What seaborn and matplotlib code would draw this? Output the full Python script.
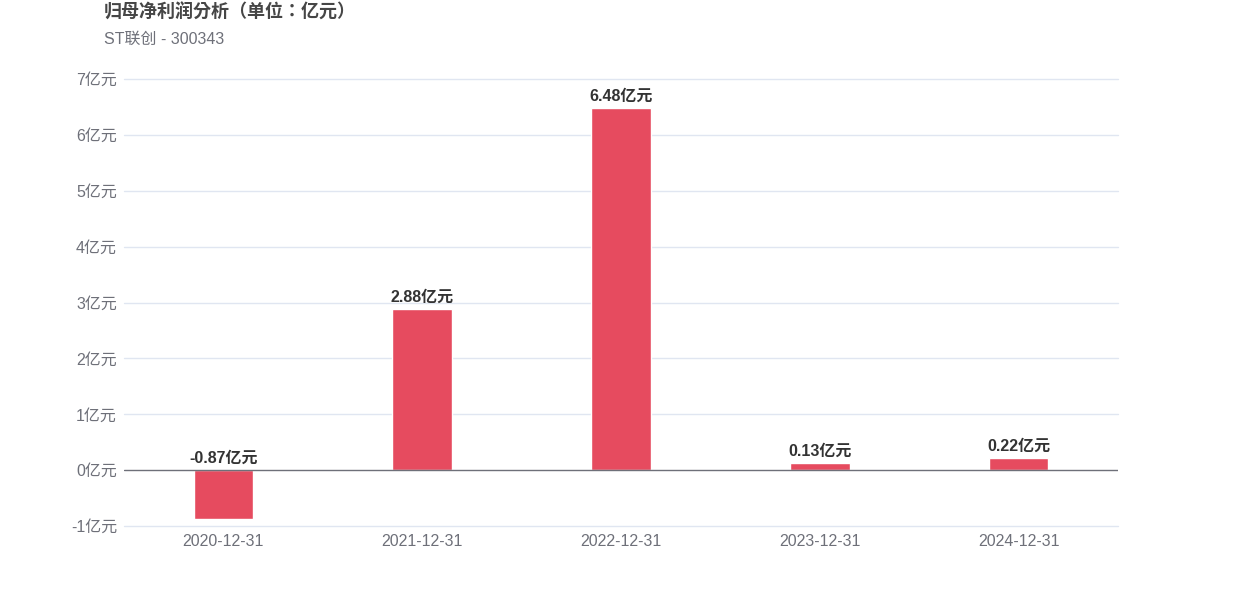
import matplotlib
matplotlib.use("Agg")
import matplotlib.pyplot as plt
import seaborn as sns
import pandas as pd

categories = ["2020-12-31", "2021-12-31", "2022-12-31", "2023-12-31", "2024-12-31"]
values = [-0.87, 2.88, 6.48, 0.13, 0.22]
labels = ["-0.87亿元", "2.88亿元", "6.48亿元", "0.13亿元", "0.22亿元"]
yticks = [-1, 0, 1, 2, 3, 4, 5, 6, 7]
ytick_labels = [f"{t}亿元" for t in yticks]
title = "归母净利润分析（单位：亿元）"
subtitle = "ST联创 - 300343"

sns.set_theme(style="white")
plt.rcParams["font.family"] = ["Liberation Sans", "Noto Sans CJK SC", "DejaVu Sans"]

df = pd.DataFrame({"date": categories, "value": values})

fig = plt.figure(figsize=(12.42, 5.96), dpi=100)
ax = fig.add_axes([124 / 1242, 1 - 526 / 596, (1118 - 124) / 1242, (526 - 79) / 596])

sns.barplot(data=df, x="date", y="value", color="#E64B5F", width=0.3, ax=ax, saturation=1)

ax.set_ylim(-1, 7)
ax.set_xlim(-0.5, len(categories) - 0.5)
ax.set_yticks(yticks)
ax.set_yticklabels(ytick_labels)
for t in yticks:
    if t != 0:
        ax.axhline(t, color="#E0E6F1", lw=1, zorder=0, clip_on=False)
ax.axhline(0, color="#6E7079", lw=1, zorder=3)

for s in ax.spines.values():
    s.set_visible(False)
ax.tick_params(axis="both", length=0, colors="#6E7079", labelsize=11.5)
ax.tick_params(axis="y", pad=5)
ax.tick_params(axis="x", pad=6)
ax.set_xlabel("")
ax.set_ylabel("")

for i, (v, lab) in enumerate(zip(values, labels)):
    ax.annotate(lab, (i, max(v, 0)), xytext=(0, 3), textcoords="offset points",
                ha="center", va="bottom", fontsize=11.5, fontweight="bold", color="#333333")

fig.text(104 / 1242, 1 - 13 / 596, title, ha="left", va="center", fontsize=13,
         fontweight="bold", color="#464646",
         family=["Liberation Sans", "Noto Sans CJK TC", "DejaVu Sans"])
fig.text(104 / 1242, 1 - 39 / 596, subtitle, ha="left", va="center", fontsize=11.5,
         color="#6E7079")

fig.savefig("out.png", dpi=100)
